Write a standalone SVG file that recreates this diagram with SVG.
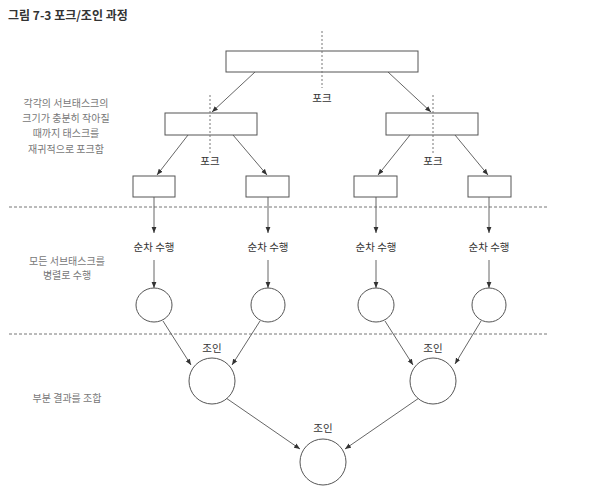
<svg xmlns="http://www.w3.org/2000/svg" width="592" height="491" viewBox="0 0 592 491">
<style>
.t{font-family:"Noto Sans CJK KR","Noto Sans",sans-serif;}
.title{font-size:12px;font-weight:bold;fill:#333;}
.side{font-size:10px;fill:#777;text-anchor:middle;}
.lbl{font-size:10.5px;fill:#333;text-anchor:middle;}
.box{fill:#fff;stroke:#555;stroke-width:1;}
.circ{fill:#fff;stroke:#555;stroke-width:1;}
.arr{stroke:#555;stroke-width:0.9;fill:none;marker-end:url(#ah);}
.vd{stroke:#777;stroke-width:1;stroke-dasharray:2,2;fill:none;}
.hd{stroke:#777;stroke-width:1;stroke-dasharray:3,2;fill:none;}
</style>
<defs>
<marker id="ah" viewBox="0 0 10 10" refX="10" refY="5" markerWidth="6" markerHeight="6" orient="auto" markerUnits="userSpaceOnUse">
<path d="M0,1 L10,5 L0,9 z" fill="#333"/>
</marker>
</defs>
<rect width="592" height="491" fill="#fff"/>
<text class="t title" x="8" y="20">그림 7-3 포크/조인 과정</text>

<g id="side-labels">
<text class="t side" x="66" y="107">각각의 서브태스크의</text>
<text class="t side" x="66" y="122">크기가 충분히 작아질</text>
<text class="t side" x="66" y="137">때까지 태스크를</text>
<text class="t side" x="66" y="153">재귀적으로 포크함</text>
<text class="t side" x="67" y="265">모든 서브태스크를</text>
<text class="t side" x="67" y="279">병렬로 수행</text>
<text class="t side" x="67" y="402">부분 결과를 조합</text>
</g>

<g id="separators">
<line class="hd" x1="9" y1="207" x2="547" y2="207"/>
<line class="hd" x1="9" y1="334" x2="547" y2="334"/>
</g>

<g id="connectors">
<line class="arr" x1="255" y1="72" x2="212" y2="112"/>
<line class="arr" x1="388" y1="72" x2="431" y2="112"/>
<line class="arr" x1="188" y1="135" x2="157" y2="175"/>
<line class="arr" x1="233" y1="135" x2="267" y2="175"/>
<line class="arr" x1="410" y1="135" x2="378" y2="175"/>
<line class="arr" x1="455" y1="135" x2="488" y2="175"/>
<line class="arr" x1="154" y1="197" x2="154" y2="233"/>
<line class="arr" x1="268" y1="197" x2="268" y2="233"/>
<line class="arr" x1="376" y1="197" x2="376" y2="233"/>
<line class="arr" x1="489" y1="197" x2="489" y2="233"/>
<line class="arr" x1="154" y1="260" x2="154" y2="288"/>
<line class="arr" x1="268" y1="260" x2="268" y2="288"/>
<line class="arr" x1="376" y1="260" x2="376" y2="288"/>
<line class="arr" x1="489" y1="260" x2="489" y2="288"/>
<line class="arr" x1="163" y1="321" x2="191" y2="365"/>
<line class="arr" x1="260" y1="321" x2="232" y2="365"/>
<line class="arr" x1="385" y1="321" x2="413" y2="365"/>
<line class="arr" x1="481" y1="321" x2="455" y2="364"/>
<line class="arr" x1="226" y1="398" x2="300" y2="449"/>
<line class="arr" x1="419" y1="398" x2="345" y2="449"/>
</g>

<g id="fork-top">
<rect class="box" x="226" y="51" width="192" height="21"/>
<line class="vd" x1="322" y1="31" x2="322" y2="88"/>
<text class="t lbl" x="322" y="102">포크</text>
</g>
<g id="fork-left">
<rect class="box" x="165" y="113" width="92" height="22"/>
<line class="vd" x1="210" y1="95" x2="210" y2="155"/>
<text class="t lbl" x="210" y="165">포크</text>
</g>
<g id="fork-right">
<rect class="box" x="386" y="113" width="92" height="22"/>
<line class="vd" x1="433" y1="95" x2="433" y2="155"/>
<text class="t lbl" x="433" y="165">포크</text>
</g>
<g id="task1"><rect class="box" x="133" y="176" width="42" height="21"/></g>
<g id="task2"><rect class="box" x="246" y="176" width="43" height="21"/></g>
<g id="task3"><rect class="box" x="354" y="176" width="43" height="21"/></g>
<g id="task4"><rect class="box" x="468" y="176" width="43" height="21"/></g>

<g id="seq-labels">
<text class="t lbl" x="154" y="251">순차 수행</text>
<text class="t lbl" x="268" y="251">순차 수행</text>
<text class="t lbl" x="376" y="251">순차 수행</text>
<text class="t lbl" x="489" y="251">순차 수행</text>
</g>

<g id="result1"><ellipse class="circ" cx="154" cy="305" rx="18" ry="17"/></g>
<g id="result2"><ellipse class="circ" cx="268" cy="305" rx="17" ry="17"/></g>
<g id="result3"><ellipse class="circ" cx="376" cy="305" rx="18" ry="17"/></g>
<g id="result4"><ellipse class="circ" cx="489" cy="305" rx="17" ry="17"/></g>

<g id="join-left">
<circle class="circ" cx="212" cy="381" r="23"/>
<text class="t lbl" x="212" y="352">조인</text>
</g>
<g id="join-right">
<circle class="circ" cx="433" cy="381" r="23"/>
<text class="t lbl" x="433" y="352">조인</text>
</g>
<g id="join-final">
<circle class="circ" cx="323" cy="462" r="23"/>
<text class="t lbl" x="323" y="432">조인</text>
</g>
</svg>
